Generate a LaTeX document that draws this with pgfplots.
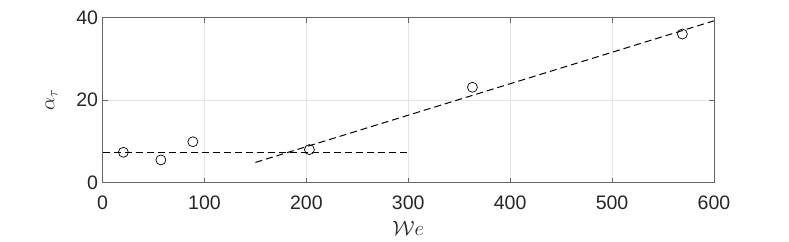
\documentclass[border=0pt]{standalone}
\usepackage{pgfplots}
\pgfplotsset{compat=1.18}
\usepackage{fontspec}
\setmainfont{Liberation Sans}
\begin{document}
\begin{tikzpicture}
\begin{axis}[
  width=611pt, height=165pt,
  scale only axis,
  xmin=0, xmax=600,
  ymin=0, ymax=40,
  xtick={0,100,...,600},
  ytick={0,20,40},
  xmajorgrids, ymajorgrids,
  grid style={color=black!10, line width=0.6pt},
  axis line style={color=black!60, line width=0.8pt},
  tick style={color=black!60, line width=0.8pt},
  tick align=inside,
  major tick length=5pt,
  ticklabel style={font=\fontsize{19.5}{22}\selectfont, color=black!85},
  xticklabel style={yshift=-10pt},
  yticklabel style={xshift=-1pt},
  /pgf/number format/assume math mode=true,
  xlabel={$\mathcal{W}e$},
  ylabel={$\alpha_\tau$},
  label style={font=\huge, color=black!85},
  xlabel style={yshift=-4pt},
  ylabel style={yshift=12pt},
  clip=false,
]
\addplot[only marks, mark=o, mark size=5pt, black, line width=0.7pt] coordinates {
  (20.4,7.35) (57.2,5.5) (88.6,9.9) (203,8.0) (363,23.1) (569,36.0)
};
\addplot[black, line width=1pt, dash pattern=on 7pt off 4pt] coordinates {
  (0,7.35) (300,7.35)
};
\addplot[black, line width=1pt, dash pattern=on 7pt off 4pt] coordinates {
  (150,4.9) (600,39.2)
};
\end{axis}
\path[use as bounding box] (-102.5pt,-59pt) rectangle (686pt,182.5pt);
\end{tikzpicture}
\end{document}
